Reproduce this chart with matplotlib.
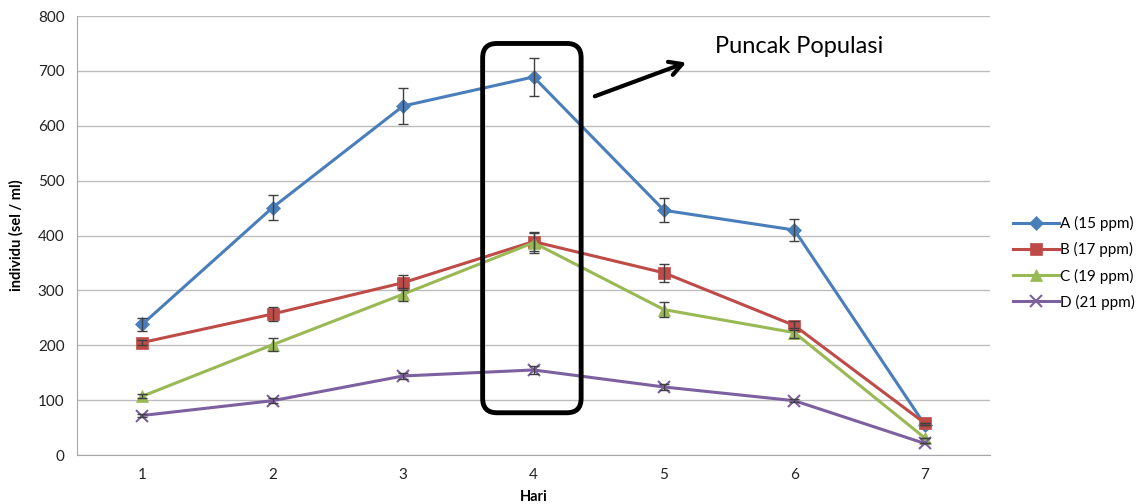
import matplotlib
matplotlib.use("Agg")
import matplotlib.pyplot as plt
from matplotlib.patches import FancyBboxPatch

plt.rcParams["font.family"] = ["Lato", "DejaVu Sans"]

days = [1, 2, 3, 4, 5, 6, 7]
labels = ["A (15 ppm)", "B (17 ppm)", "C (19 ppm)", "D (21 ppm)"]
a_vals = [238, 451, 636, 689, 446, 410, 55]
b_vals = [205, 257, 314, 389, 332, 236, 58]
c_vals = [107, 201, 293, 387, 265, 223, 31]
d_vals = [72, 99, 144, 155, 124, 99, 21]
a_err = [12, 22, 32, 35, 22, 20, 0]
b_err = [4, 12, 14, 18, 16, 8, 0]
c_err = [4, 12, 12, 18, 13, 9, 0]
d_err = [3, 4, 6, 7, 5, 3, 0]

series = [
    (a_vals, a_err, "#4A7EBB", "D", 7),
    (b_vals, b_err, "#BE4B48", "s", 9),
    (c_vals, c_err, "#98B954", "^", 8.5),
    (d_vals, d_err, "#7D60A0", "x", 8),
]

fig = plt.figure(figsize=(11.4, 5.04), dpi=100)
ax = fig.add_axes([0.0675, 0.0972, 0.801, 0.871])

for (vals, err, color, marker, ms), lab in zip(series, labels):
    ax.plot(days, vals, color=color, lw=2.2, marker=marker, ms=ms,
            mew=1.5 if marker == "x" else 0.5, mec=color, label=lab, zorder=3)
    ax.errorbar(days, vals, yerr=err, fmt="none", ecolor="#404040",
                elinewidth=1, capsize=3.5, capthick=1, zorder=4)

ax.set_xlim(0.5, 7.5)
ax.set_ylim(0, 800)
ax.set_xticks(days)
ax.set_yticks(range(0, 801, 100))
ax.tick_params(axis="both", length=0, labelsize=11, colors="#222222", pad=9)
ax.yaxis.grid(True, color="#BDBDBD", lw=1)
ax.set_axisbelow(True)
for side in ("top", "right"):
    ax.spines[side].set_visible(False)
for side in ("left", "bottom"):
    ax.spines[side].set_color("#A6A6A6")

ax.set_xlabel("Hari", fontsize=10.5, fontweight="bold", labelpad=6)
ax.set_ylabel("individu (sel / ml)", fontsize=10.5, fontweight="bold", labelpad=10)

# rounded box around day 4 (peak)
box = FancyBboxPatch((3.61, 77), 0.755, 673,
                     boxstyle="round,pad=0,rounding_size=0.11",
                     mutation_aspect=237, fill=False, ec="black", lw=3.5,
                     zorder=5, clip_on=False)
ax.add_patch(box)

ax.annotate("", xy=(5.19, 717), xytext=(4.45, 652),
            arrowprops=dict(arrowstyle="->,head_length=0.9,head_width=0.5",
                            lw=3, color="black"), zorder=6)
ax.text(5.39, 745, "Puncak Populasi", fontsize=17, va="center", ha="left")

ax.legend(loc="upper left", bbox_to_anchor=(1.01, 0.575), frameon=False,
          fontsize=11, handlelength=3, handletextpad=0.1, labelspacing=0.72)

fig.savefig("out.png", dpi=100)
